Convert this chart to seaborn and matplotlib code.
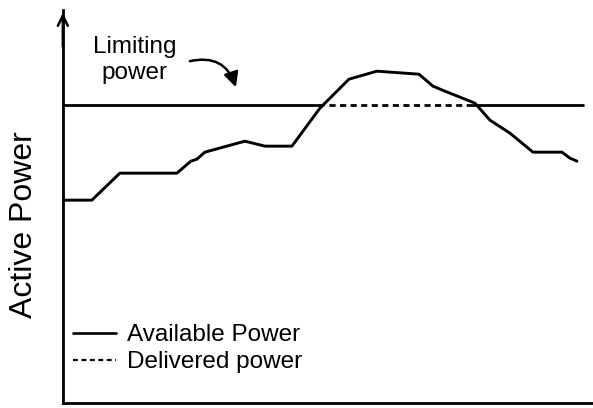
import numpy as np
import pandas as pd
import seaborn as sns
import matplotlib.pyplot as plt
from matplotlib.lines import Line2D

# available power curve (arbitrary time / power units)
t_avail = [0, 29, 57, 114, 128, 134, 142, 182, 202, 229, 257, 286, 314, 356, 370, 382, 397, 412, 427, 447, 470, 499, 507, 514]
p_avail = [203, 203, 230, 230, 242, 244, 251, 262, 257, 257, 295, 324, 332, 329, 317, 312, 306, 300, 283, 270, 251, 251, 245, 242]

# limiting power: solid where it is not binding
limit_level = 298
limit_left = [0, 260]
limit_right = [410, 520]

# delivered power is clipped where the available power exceeds the limit
t_deliv = [266, 410]
p_deliv = [limit_level, limit_level]

df = pd.DataFrame({'t': t_avail, 'p': p_avail})

sns.set_style("white")
plt.rcParams['font.family'] = ['Liberation Sans', 'DejaVu Sans']
plt.rcParams['text.color'] = 'black'
plt.rcParams['axes.labelcolor'] = 'black'

fig = plt.figure(figsize=(5.93, 4.08), dpi=100)
ax = fig.add_axes([0.106, 0.012, 0.894, 0.963])

sns.lineplot(data=df, x='t', y='p', color='black', linewidth=2.1, ax=ax)
ax.plot(limit_left, [limit_level] * 2, color='black', linewidth=2.0)
ax.plot(limit_right, [limit_level] * 2, color='black', linewidth=2.0)
ax.plot(t_deliv, p_deliv, color='black', linewidth=2.0, linestyle=(0, (2.2, 1.6)))

ax.set_xlim(0, 530)
ax.set_ylim(0, 393)
ax.set_xticks([])
ax.set_yticks([])
ax.set_xlabel('')
ax.set_ylabel('Active Power', fontsize=23)
ax.yaxis.set_label_coords(-0.045, 0.453)

for s in ['top', 'right']:
    ax.spines[s].set_visible(False)
for s in ['left', 'bottom']:
    ax.spines[s].set_linewidth(2)
    ax.spines[s].set_color('black')

# arrow head on the y axis
ax.annotate('', xy=(0, 1.0), xytext=(0, 0.9), xycoords='axes fraction',
            arrowprops=dict(arrowstyle='->', color='black', lw=1.8,
                            mutation_scale=18), annotation_clip=False)

ax.text(72, 343, 'Limiting\npower', ha='center', va='center', fontsize=17.5,
        linespacing=1.2)
ax.annotate('', xy=(173, 316), xytext=(127, 342),
            arrowprops=dict(arrowstyle='-|>', color='black', lw=1.8,
                            mutation_scale=22, shrinkA=0, shrinkB=0,
                            connectionstyle='arc3,rad=-0.45'))

handles = [Line2D([], [], color='black', lw=1.9),
           Line2D([], [], color='black', lw=1.6, linestyle=(0, (2.2, 1.6)))]
ax.legend(handles, ['Available Power', 'Delivered power'], loc='upper left',
          bbox_to_anchor=(0.0, 0.225), borderaxespad=0, borderpad=0.4,
          frameon=False, fontsize=17.5,
          handlelength=1.8, handletextpad=0.45, labelspacing=0.2)

plt.savefig('out.png', dpi=100)
